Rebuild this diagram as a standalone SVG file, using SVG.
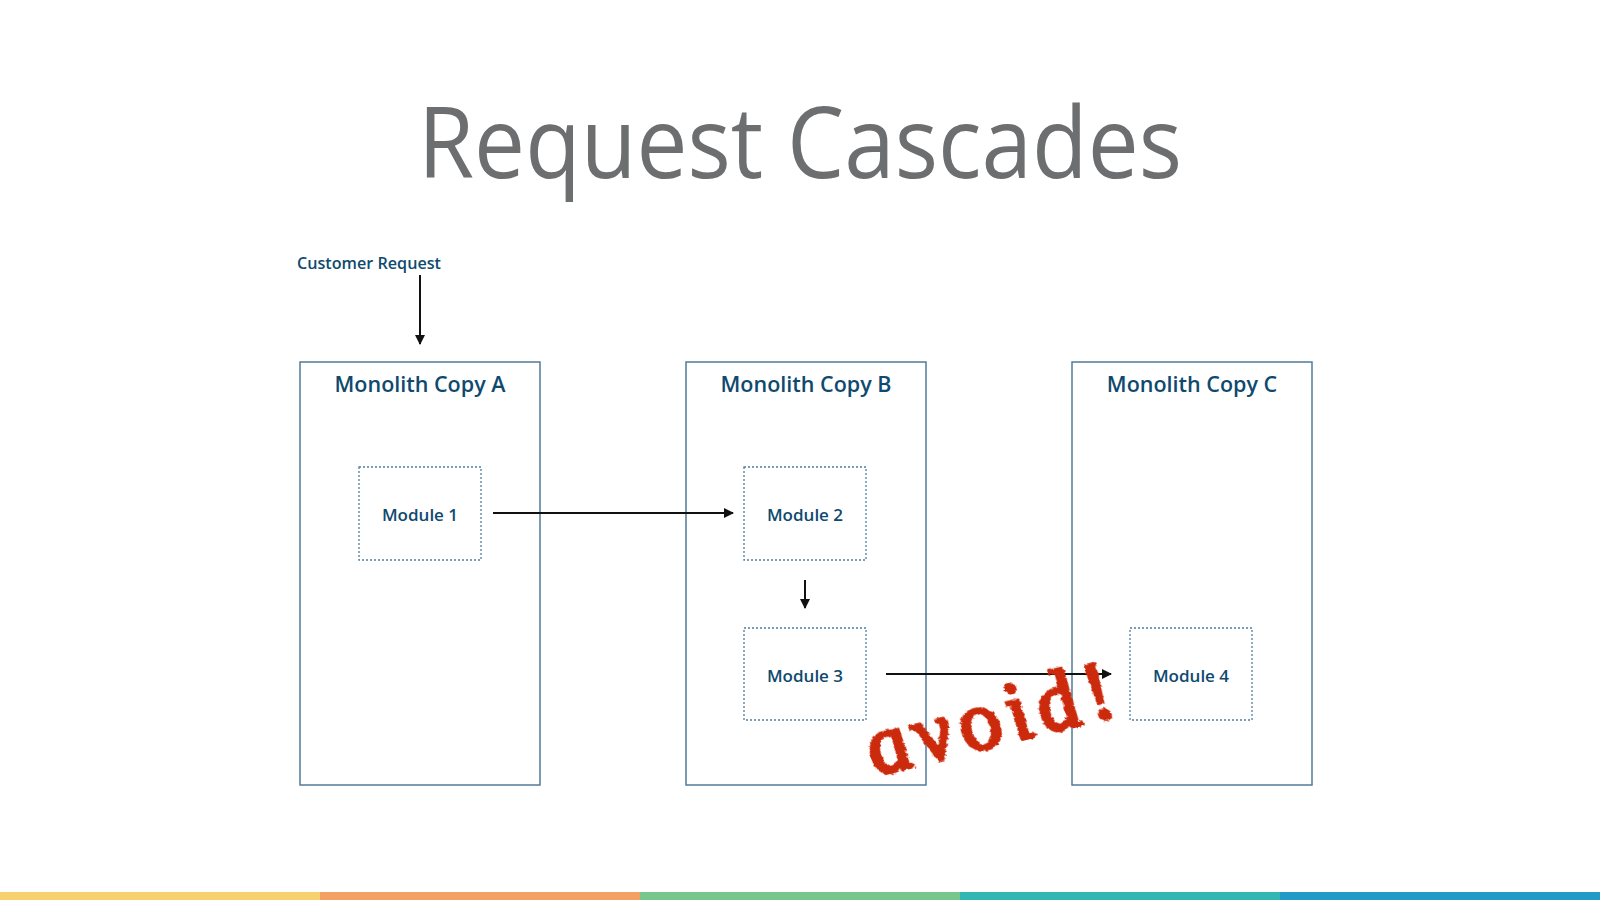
<svg xmlns="http://www.w3.org/2000/svg" width="1600" height="900" viewBox="0 0 1600 900">
<style>
.mono{fill:#fff;stroke:#4f7b99;stroke-width:1.5}
.mod{fill:#fff;stroke:#4f7fa3;stroke-width:1.3;stroke-dasharray:2 2}
.lbl{font-family:"Open Sans","Liberation Sans",sans-serif;fill:#0f4a6e;text-anchor:middle}
.h{font-size:21.5px;font-weight:600}
.m{font-size:17px;font-weight:600}
.conn{stroke:#111;stroke-width:2;fill:none;marker-end:url(#ah)}
</style>
<defs>
<marker id="ah" viewBox="0 0 10 10" refX="9" refY="5" markerWidth="5" markerHeight="5" orient="auto" markerUnits="strokeWidth">
<path d="M0,0 L10,5 L0,10 z" fill="#111"/>
</marker>
<filter id="rough" x="-10%" y="-10%" width="120%" height="120%">
<feTurbulence type="fractalNoise" baseFrequency="0.3" numOctaves="2" seed="3"/>
<feDisplacementMap in="SourceGraphic" scale="4" xChannelSelector="R" yChannelSelector="G"/>
</filter>
</defs>
<rect width="1600" height="900" fill="#fff"/>
<text x="800" y="178" font-family="'Open Sans','Liberation Sans',sans-serif" font-weight="400" font-size="99" fill="#6d6e70" text-anchor="middle" textLength="764" lengthAdjust="spacingAndGlyphs">Request Cascades</text>

<g id="customer-request">
<text x="369" y="269" class="lbl" style="font-size:17px;font-weight:600" textLength="144" lengthAdjust="spacingAndGlyphs">Customer Request</text>
</g>

<g id="monolith-a">
<rect x="300" y="362" width="240" height="423" class="mono"/>
<text x="420" y="392" class="lbl h">Monolith Copy A</text>
</g>
<g id="monolith-b">
<rect x="686" y="362" width="240" height="423" class="mono"/>
<text x="806" y="392" class="lbl h">Monolith Copy B</text>
</g>
<g id="monolith-c">
<rect x="1072" y="362" width="240" height="423" class="mono"/>
<text x="1192" y="392" class="lbl h">Monolith Copy C</text>
</g>

<g id="module-1">
<rect x="359" y="467" width="122" height="93" class="mod"/>
<text x="420" y="521" class="lbl m">Module 1</text>
</g>
<g id="module-2">
<rect x="744" y="467" width="122" height="93" class="mod"/>
<text x="805" y="521" class="lbl m">Module 2</text>
</g>
<g id="module-3">
<rect x="744" y="628" width="122" height="92" class="mod"/>
<text x="805" y="682" class="lbl m">Module 3</text>
</g>
<g id="module-4">
<rect x="1130" y="628" width="122" height="92" class="mod"/>
<text x="1191" y="682" class="lbl m">Module 4</text>
</g>

<g id="connectors">
<line x1="420" y1="275" x2="420" y2="344" class="conn"/>
<line x1="493" y1="513" x2="733" y2="513" class="conn"/>
<line x1="805" y1="580" x2="805" y2="608" class="conn"/>
<line x1="886" y1="674" x2="1111" y2="674" class="conn"/>
</g>

<g id="avoid">
<text x="0" y="0" transform="translate(878,775) rotate(-14) skewX(12)" font-family="'Liberation Serif',serif" font-style="italic" font-size="84" fill="#cc2a0a" stroke="#cc2a0a" stroke-width="3.5" stroke-linejoin="round" filter="url(#rough)" textLength="252" lengthAdjust="spacing">avoid!</text>
</g>

<g id="bar">
<rect x="0" y="892" width="320" height="8" fill="#f7d070"/>
<rect x="320" y="892" width="320" height="8" fill="#f3a063"/>
<rect x="640" y="892" width="320" height="8" fill="#79c68c"/>
<rect x="960" y="892" width="320" height="8" fill="#33b7b2"/>
<rect x="1280" y="892" width="320" height="8" fill="#2399c8"/>
</g>
</svg>
